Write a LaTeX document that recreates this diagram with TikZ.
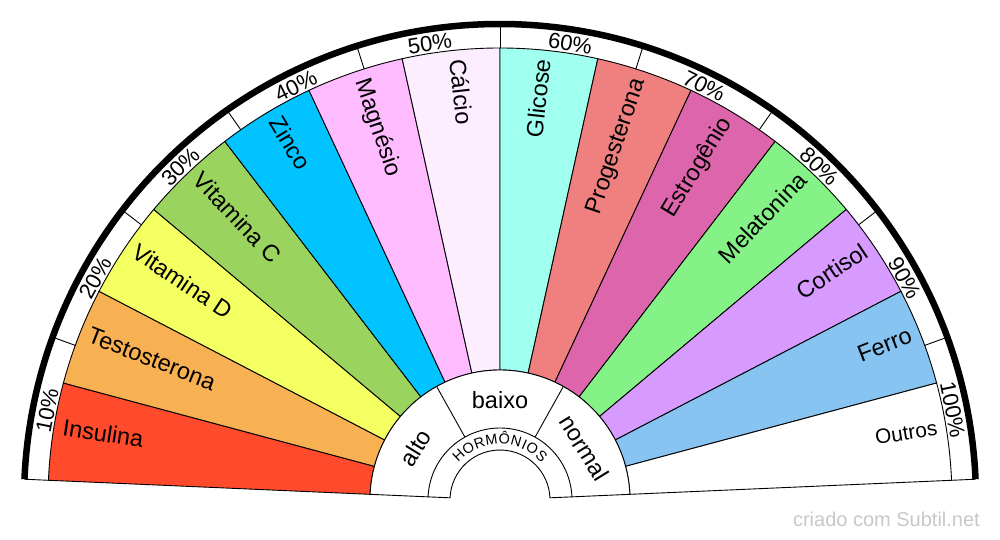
\documentclass[tikz,border=0pt]{standalone}
\usepackage{fontspec}
\setmainfont{Liberation Sans}
\definecolor{cInsulina}{HTML}{FF4A2B}
\definecolor{cTesto}{HTML}{F7B052}
\definecolor{cVitD}{HTML}{F4FF62}
\definecolor{cVitC}{HTML}{9AD45F}
\definecolor{cZinco}{HTML}{00C3FF}
\definecolor{cMagn}{HTML}{FFBBFF}
\definecolor{cCalcio}{HTML}{FCEEFF}
\definecolor{cGlicose}{HTML}{A0FFEE}
\definecolor{cProg}{HTML}{F08080}
\definecolor{cEstro}{HTML}{DD65AB}
\definecolor{cMela}{HTML}{85F287}
\definecolor{cCort}{HTML}{D79AFF}
\definecolor{cFerro}{HTML}{88C4F2}
\definecolor{cWater}{HTML}{C8C8C8}
\begin{document}
\begin{tikzpicture}[x=1pt,y=1pt,
  thinline/.style={line width=0.9pt, draw=black},
  lbl/.style={font=\fontsize{23.5}{27}\selectfont, inner sep=0pt},
  small lbl/.style={font=\fontsize{20.8}{24}\selectfont, inner sep=0pt},
  pct/.style={font=\fontsize{22}{26}\selectfont, inner sep=0pt, anchor=base},
  hublbl/.style={font=\fontsize{23.5}{27}\selectfont, inner sep=0pt},
  hletter/.style={font=\fontsize{14.5}{17}\selectfont, inner sep=0pt, anchor=base},
]
\useasboundingbox[fill=white] (-500,-40) rectangle (500,500);

% coloured sectors
\foreach \col [count=\i from 0] in {cInsulina,cTesto,cVitD,cVitC,cZinco,cMagn,cCalcio,cGlicose,cProg,cEstro,cMela,cCort,cFerro,white}{
  \pgfmathsetmacro\aa{177.5-12.5*\i}
  \pgfmathsetmacro\ab{\aa-12.5}
  \filldraw[fill=\col, thinline] (\aa:130) arc[start angle=\aa, end angle=\ab, radius=130]
     -- (\ab:452) arc[start angle=\ab, end angle=\aa, radius=452] -- cycle;
}

% percent band
\draw[thinline] (177.5:452) -- (177.5:476);
\draw[thinline] (2.5:452) -- (2.5:476);
\foreach \t in {160,142.5,125,107.5,90,72.5,55,37.5,20}
  \draw[thinline] (\t:452) -- (\t:474);
\draw[line width=6.5pt] (177.5:476) arc[start angle=177.5, end angle=2.5, radius=476];

\foreach \p [count=\k] in {10,20,30,40,50,60,70,80,90,100}{
  \pgfmathsetmacro\c{177.5-17.5*(\k-0.5)}
  \node[pct, rotate=\c-90] (p\k) at (\c:454) {\p\%};
}

% hub
\fill[white] (177.5:50) arc[start angle=177.5, end angle=2.5, radius=50]
   -- (2.5:130) arc[start angle=2.5, end angle=177.5, radius=130] -- cycle;
\draw[thinline] (177.5:130) arc[start angle=177.5, end angle=2.5, radius=130];
\draw[thinline] (177.5:72) arc[start angle=177.5, end angle=2.5, radius=72];
\draw[thinline] (177.5:50) arc[start angle=177.5, end angle=2.5, radius=50];
\draw[thinline] (177.5:50) -- (177.5:130);
\draw[thinline] (2.5:50) -- (2.5:130);
\draw[thinline] (119.1667:72) -- (119.1667:130);
\draw[thinline] (60.8333:72) -- (60.8333:130);

\node[hublbl, rotate=58.33] (alto) at (148.33:99) {alto};
\node[hublbl] (baixo) at (90:99.5) {baixo};
\node[hublbl, rotate=-58.33] (normal) at (31.67:99) {normal};

\foreach \ch/\ang [count=\j] in {H/132.83,O/121.37,R/109.90,M/98.06,Ô/85.84,N/74.38,I/66.32,O/57.88,S/46.79}
  \node[hletter, rotate=\ang-90] (h\j) at (\ang:55.8) {\ch};

% sector labels
\node[lbl, anchor=mid west, rotate=-8.75]  (l1) at (171.25:443) {Insulina};
\node[lbl, anchor=mid west, rotate=-21.25] (l2) at (158.75:443) {Testosterona};
\node[lbl, anchor=mid west, rotate=-33.75] (l3) at (146.25:443) {Vitamina D};
\node[lbl, anchor=mid west, rotate=-46.25] (l4) at (133.75:443) {Vitamina C};
\node[lbl, anchor=mid west, rotate=-58.75] (l5) at (121.25:443) {Zinco};
\node[lbl, anchor=mid west, rotate=-71.25] (l6) at (108.75:443) {Magnésio};
\node[lbl, anchor=mid west, rotate=-83.75] (l7) at (96.25:443) {Cálcio};
\node[lbl, anchor=mid east, rotate=83.75] (l8) at (83.75:443) {Glicose};
\node[lbl, anchor=mid east, rotate=71.25] (l9) at (71.25:443) {Progesterona};
\node[lbl, anchor=mid east, rotate=58.75] (l10) at (58.75:443) {Estrogênio};
\node[lbl, anchor=mid east, rotate=46.25] (l11) at (46.25:443) {Melatonina};
\node[lbl, anchor=mid east, rotate=33.75] (l12) at (33.75:443) {Cortisol};
\node[lbl, anchor=mid east, rotate=21.25] (l13) at (21.25:443) {Ferro};
\node[small lbl, anchor=mid east, rotate=8.75] (l14) at (8.75:443) {Outros};

% watermark
\node[font=\fontsize{20}{23}\selectfont, text=cWater, anchor=base east, inner sep=0pt] (wm) at (480,-27) {criado com Subtil.net};
\end{tikzpicture}
\end{document}
